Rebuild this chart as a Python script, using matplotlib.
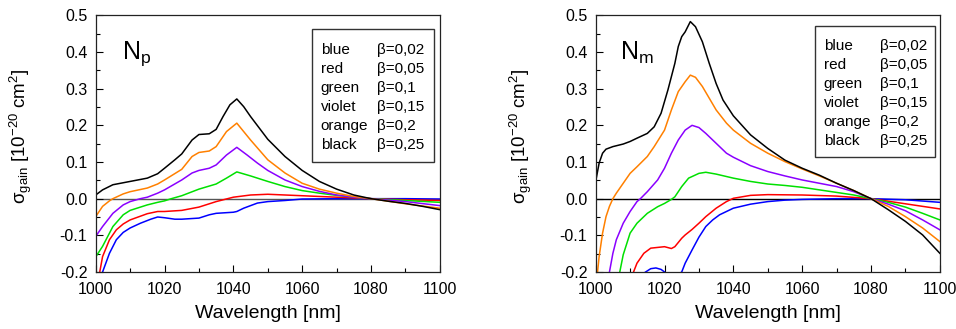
import matplotlib
matplotlib.use('Agg')
import matplotlib.pyplot as plt
from matplotlib.ticker import MultipleLocator
from matplotlib.patches import Rectangle

plt.rcParams['font.family'] = ['Liberation Sans', 'DejaVu Sans']
plt.rcParams['mathtext.fontset'] = 'custom'
plt.rcParams['mathtext.rm'] = 'Liberation Sans'
plt.rcParams['mathtext.it'] = 'Liberation Sans'

# ---- left panel (N_p) ----
np_black_x = [1000, 1002, 1005, 1010, 1015, 1018, 1020, 1023, 1025, 1028, 1030, 1033, 1035, 1037, 1039, 1041,
              1043, 1045, 1050, 1055, 1060, 1065, 1070, 1075, 1080, 1085, 1090, 1095, 1100]
np_black_y = [0.010, 0.024, 0.038, 0.047, 0.056, 0.068, 0.083, 0.106, 0.122, 0.160, 0.175, 0.177, 0.189, 0.224,
              0.256, 0.272, 0.251, 0.224, 0.162, 0.115, 0.077, 0.047, 0.026, 0.010, 0.0, -0.007, -0.013, -0.021, -0.030]

np_orange_x = [1000, 1002, 1004, 1005, 1008, 1010, 1015, 1018, 1020, 1025, 1028, 1030, 1033, 1035, 1038, 1041,
               1043, 1045, 1050, 1055, 1060, 1065, 1070, 1075, 1080, 1090, 1100]
np_orange_y = [-0.049, -0.021, -0.006, 0.0, 0.013, 0.019, 0.029, 0.040, 0.051, 0.080, 0.115, 0.126, 0.130, 0.142,
               0.183, 0.206, 0.183, 0.160, 0.106, 0.070, 0.042, 0.026, 0.015, 0.006, 0.0, -0.014, -0.026]

np_violet_x = [1000, 1002, 1005, 1008, 1010, 1013, 1015, 1018, 1020, 1025, 1028, 1030, 1033, 1035, 1038, 1041,
               1044, 1047, 1050, 1055, 1060, 1065, 1070, 1075, 1080, 1090, 1100]
np_violet_y = [-0.103, -0.076, -0.040, -0.017, -0.008, 0.0, 0.004, 0.015, 0.024, 0.051, 0.070, 0.077, 0.083, 0.092,
               0.119, 0.140, 0.119, 0.097, 0.077, 0.051, 0.033, 0.020, 0.010, 0.004, 0.0, -0.008, -0.019]

np_green_x = [1000, 1002, 1005, 1008, 1010, 1015, 1018, 1020, 1022, 1025, 1030, 1035, 1038, 1041, 1045, 1050,
              1055, 1060, 1065, 1070, 1075, 1080, 1090, 1100]
np_green_y = [-0.159, -0.130, -0.076, -0.044, -0.032, -0.017, -0.010, -0.006, 0.0, 0.008, 0.026, 0.040, 0.056,
              0.073, 0.062, 0.047, 0.033, 0.022, 0.015, 0.009, 0.004, 0.0, -0.005, -0.010]

np_red_x = [1000, 1002, 1004, 1006, 1008, 1010, 1015, 1018, 1020, 1025, 1030, 1035, 1040, 1045, 1050, 1055,
            1060, 1070, 1080, 1090, 1100]
np_red_y = [-0.26, -0.158, -0.112, -0.085, -0.069, -0.058, -0.041, -0.035, -0.035, -0.032, -0.023, -0.008, 0.004,
            0.010, 0.012, 0.010, 0.008, 0.004, 0.0, -0.003, -0.005]

np_blue_x = [1000, 1002, 1004, 1006, 1008, 1010, 1013, 1016, 1018, 1020, 1023, 1025, 1030, 1033, 1035, 1040,
             1041, 1043, 1047, 1050, 1055, 1060, 1070, 1080, 1090, 1100]
np_blue_y = [-0.30, -0.20, -0.149, -0.112, -0.092, -0.080, -0.067, -0.056, -0.050, -0.052, -0.056, -0.056, -0.053,
             -0.044, -0.040, -0.037, -0.035, -0.026, -0.012, -0.008, -0.005, -0.001, 0.0, 0.0, 0.0, -0.001]

# ---- right panel (N_m) ----
nm_black_x = [1000, 1001, 1002, 1003, 1005, 1008, 1010, 1012, 1015, 1017, 1019, 1021, 1023, 1024, 1025, 1026,
              1027.5, 1029, 1031, 1033, 1035, 1037, 1040, 1045, 1050, 1055, 1060, 1065, 1070, 1075, 1080,
              1085, 1090, 1095, 1100]
nm_black_y = [0.047, 0.097, 0.124, 0.135, 0.142, 0.149, 0.156, 0.165, 0.178, 0.196, 0.233, 0.297, 0.369, 0.415,
              0.442, 0.455, 0.483, 0.469, 0.428, 0.369, 0.314, 0.269, 0.226, 0.174, 0.137, 0.105, 0.083, 0.064,
              0.042, 0.022, 0.0, -0.030, -0.062, -0.099, -0.149]

nm_orange_x = [1000, 1001, 1002, 1003, 1004, 1005, 1006, 1008, 1010, 1012, 1015, 1017, 1020, 1022, 1024, 1026,
               1027.5, 1029, 1031, 1033, 1035, 1038, 1040, 1045, 1050, 1055, 1060, 1065, 1070, 1075, 1080,
               1085, 1090, 1095, 1100]
nm_orange_y = [-0.25, -0.158, -0.094, -0.049, -0.021, 0.0, 0.015, 0.042, 0.069, 0.087, 0.115, 0.142, 0.187,
               0.242, 0.292, 0.319, 0.337, 0.331, 0.306, 0.274, 0.242, 0.206, 0.187, 0.151, 0.124, 0.101, 0.081,
               0.062, 0.042, 0.022, 0.0, -0.021, -0.049, -0.080, -0.117]

nm_violet_x = [1003, 1004, 1005, 1006, 1008, 1010, 1012, 1013, 1015, 1018, 1020, 1022, 1024, 1026, 1028, 1030,
               1032, 1035, 1038, 1040, 1045, 1050, 1055, 1060, 1065, 1070, 1075, 1080, 1085, 1090, 1095, 1100]
nm_violet_y = [-0.25, -0.20, -0.149, -0.112, -0.067, -0.035, -0.008, 0.0, 0.019, 0.051, 0.083, 0.124, 0.160,
               0.187, 0.200, 0.194, 0.178, 0.151, 0.124, 0.113, 0.090, 0.074, 0.062, 0.051, 0.042, 0.033, 0.019,
               0.0, -0.015, -0.033, -0.058, -0.085]

nm_green_x = [1006, 1007, 1008, 1010, 1012, 1015, 1018, 1020, 1022, 1023, 1025, 1027, 1030, 1032, 1035, 1040,
              1045, 1050, 1055, 1060, 1065, 1070, 1075, 1080, 1085, 1090, 1095, 1100]
nm_green_y = [-0.25, -0.20, -0.153, -0.094, -0.067, -0.040, -0.022, -0.013, -0.002, 0.005, 0.033, 0.056, 0.069,
              0.072, 0.067, 0.056, 0.047, 0.040, 0.036, 0.031, 0.024, 0.017, 0.010, 0.0, -0.010, -0.023, -0.040,
              -0.058]

nm_red_x = [1010, 1011, 1012, 1014, 1016, 1018, 1020, 1022, 1023, 1025, 1026, 1028, 1030, 1032, 1035, 1038,
            1040, 1045, 1050, 1060, 1070, 1080, 1085, 1090, 1095, 1100]
nm_red_y = [-0.25, -0.20, -0.176, -0.149, -0.135, -0.133, -0.131, -0.136, -0.131, -0.108, -0.099, -0.084, -0.067,
            -0.049, -0.026, -0.008, 0.001, 0.009, 0.011, 0.010, 0.007, 0.0, -0.007, -0.014, -0.021, -0.028]

nm_blue_x = [1013, 1014.5, 1016, 1017.5, 1019, 1020, 1022, 1025, 1026, 1028, 1030, 1032, 1034, 1036, 1040, 1045,
             1050, 1055, 1060, 1070, 1080, 1090, 1100]
nm_blue_y = [-0.21, -0.20, -0.191, -0.189, -0.193, -0.20, -0.22, -0.20, -0.176, -0.140, -0.105, -0.076, -0.058,
             -0.044, -0.026, -0.015, -0.008, -0.004, -0.002, 0.0, 0.0, -0.003, -0.010]

names = ['blue', 'red', 'green', 'violet', 'orange', 'black']
betas = ['\u03b2=0,02', '\u03b2=0,05', '\u03b2=0,1', '\u03b2=0,15', '\u03b2=0,2', '\u03b2=0,25']
colors = {'blue': '#0000ff', 'red': '#ff0000', 'green': '#00e000',
          'violet': '#8a00ff', 'orange': '#ff8000', 'black': '#000000'}

left_series = {'blue': (np_blue_x, np_blue_y), 'red': (np_red_x, np_red_y),
               'green': (np_green_x, np_green_y), 'violet': (np_violet_x, np_violet_y),
               'orange': (np_orange_x, np_orange_y), 'black': (np_black_x, np_black_y)}
right_series = {'blue': (nm_blue_x, nm_blue_y), 'red': (nm_red_x, nm_red_y),
                'green': (nm_green_x, nm_green_y), 'violet': (nm_violet_x, nm_violet_y),
                'orange': (nm_orange_x, nm_orange_y), 'black': (nm_black_x, nm_black_y)}

fig = plt.figure(figsize=(9.56, 3.29), dpi=100)
ax1 = fig.add_axes([0.1001, 0.1733, 0.360, 0.780])
ax2 = fig.add_axes([0.6231, 0.1733, 0.360, 0.780])


def setup(ax, series, label, zero_color, lab_pos, box, col1, col2, row0):
    ax.axhline(0, color=zero_color, lw=1.0, zorder=1)
    for name in ['blue', 'red', 'green', 'violet', 'orange', 'black']:
        xs, ys = series[name]
        ax.plot(xs, ys, color=colors[name], lw=1.1, zorder=2)
    ax.set_xlim(1000, 1100)
    ax.xaxis.set_major_locator(MultipleLocator(20))
    ax.xaxis.set_minor_locator(MultipleLocator(10))
    ax.set_yticks([-0.2, -0.1, 0.0, 0.1, 0.2, 0.3, 0.4, 0.5])
    ax.set_yticklabels(['-0.2', '-0.1', '0.0', '0.1', '0.2', '0.3', '0.4', '0.5'])
    ax.yaxis.set_minor_locator(MultipleLocator(0.05))
    ax.set_ylim(-0.2, 0.5)
    ax.tick_params(which='both', direction='in', top=False, right=False, labelsize=11.5, width=0.8)
    ax.tick_params(axis='y', which='major', length=5, pad=6)
    ax.tick_params(axis='x', which='major', length=5, pad=7)
    ax.tick_params(which='minor', length=3)
    for sp in ax.spines.values():
        sp.set_linewidth(0.9)
        sp.set_color('#222222')
    ax.set_xlabel('Wavelength [nm]', fontsize=14)
    ax.xaxis.set_label_coords(0.5, -0.13)
    ax.set_ylabel('\u03c3$_{\\mathregular{gain}}$ [10$^{\\mathregular{-20}}$ cm$^{\\mathregular{2}}$]', fontsize=13.5)
    ax.yaxis.set_label_coords(-0.178, 0.53)
    ax.text(lab_pos[0], lab_pos[1], label, transform=ax.transAxes, fontsize=18, va='baseline')
    ax.add_patch(Rectangle((box[0], box[1]), box[2] - box[0], box[3] - box[1], transform=ax.transAxes,
                           fill=False, edgecolor='#333333', lw=1.0, zorder=5))
    for i, (n, b) in enumerate(zip(names, betas)):
        y = row0 - i * 0.074
        ax.text(col1, y, n, transform=ax.transAxes, fontsize=11, va='center')
        ax.text(col2, y, b, transform=ax.transAxes, fontsize=11, va='center')


setup(ax1, left_series, '$\\mathregular{N_p}$', '#555555', (0.076, 0.83),
      (0.628, 0.4285, 0.983, 0.947), 0.654, 0.817, 0.865)
setup(ax2, right_series, '$\\mathregular{N_m}$', '#000000', (0.070, 0.826),
      (0.637, 0.448, 0.985, 0.958), 0.663, 0.826, 0.880)

fig.savefig('out.png', dpi=100)
